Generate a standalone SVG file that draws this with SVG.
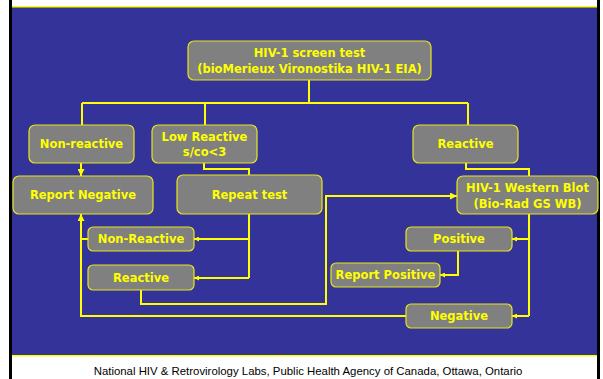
<svg xmlns="http://www.w3.org/2000/svg" width="603" height="379" viewBox="0 0 603 379">
<defs>
<style>
.box{fill:#808080;stroke:#e6e61a;stroke-width:1.2}
.lbl{fill:#ffff00;font-family:"DejaVu Sans",sans-serif;font-weight:bold;font-size:11.5px;text-anchor:middle}
.ln{fill:none;stroke:#ffff00;stroke-width:2}
.foot{fill:#000;font-family:"Liberation Sans",Arial,sans-serif;font-size:11.4px;text-anchor:middle}
</style>
<marker id="ah" viewBox="0 0 10 10" refX="10" refY="5" markerWidth="7" markerHeight="7" markerUnits="userSpaceOnUse" orient="auto">
<path d="M0,0 L10,5 L0,10 z" fill="#ffff00"/>
</marker>
<marker id="ahs" viewBox="0 0 10 10" refX="10" refY="5" markerWidth="5" markerHeight="5" markerUnits="userSpaceOnUse" orient="auto">
<path d="M0,0 L10,5 L0,10 z" fill="#ffff00"/>
</marker>
</defs>
<rect x="0" y="0" width="603" height="379" fill="#ffffff"/>
<rect x="9" y="0" width="3" height="379" fill="#000000"/>
<rect x="597" y="0" width="3" height="379" fill="#000000"/>
<rect x="12" y="6" width="585" height="350" fill="#333399"/>
<rect x="12" y="6" width="585" height="1.5" fill="#ffff00"/>
<rect x="12" y="355" width="585" height="1.5" fill="#ffff00"/>

<g id="connectors">
<path class="ln" d="M309 80 V103 M82 103 H468 M82 103 V125 M205 103 V125 M468 103 V125"/>
<path class="ln" d="M81 163 V176" marker-end="url(#ah)"/>
<path class="ln" d="M204 163 V169 H249 V175"/>
<path class="ln" d="M249 214 V278"/>
<path class="ln" d="M249 239 H194" marker-end="url(#ahs)"/>
<path class="ln" d="M249 278 H194" marker-end="url(#ahs)"/>
<path class="ln" d="M88 239 H81"/>
<path class="ln" d="M141 290 V304 H326 V196 H457" marker-end="url(#ah)"/>
<path class="ln" d="M466 163 V169 H529 V176"/>
<path class="ln" d="M529 214 V316"/>
<path class="ln" d="M529 239 H512" marker-end="url(#ahs)"/>
<path class="ln" d="M529 316 H512" marker-end="url(#ahs)"/>
<path class="ln" d="M458 251 V275 H440" marker-end="url(#ahs)"/>
<path class="ln" d="M406 316 H81 V214" marker-end="url(#ah)"/>
</g>

<g id="n_screen"><rect class="box" x="188" y="41" width="243" height="39" rx="6"/><text class="lbl" x="309.5" y="57">HIV-1 screen test</text><text class="lbl" x="309.5" y="73">(bioMerieux Vironostika HIV-1 EIA)</text></g>
<g id="n_nonreactive"><rect class="box" x="29" y="125" width="105" height="38" rx="6"/><text class="lbl" x="81.5" y="148">Non-reactive</text></g>
<g id="n_lowreactive"><rect class="box" x="152" y="125" width="105" height="38" rx="6"/><text class="lbl" x="204.5" y="141">Low Reactive</text><text class="lbl" x="204.5" y="156">s/co&lt;3</text></g>
<g id="n_reactive"><rect class="box" x="413" y="125" width="105" height="38" rx="6"/><text class="lbl" x="465.5" y="148">Reactive</text></g>
<g id="n_reportneg"><rect class="box" x="13" y="176" width="140" height="38" rx="6"/><text class="lbl" x="83" y="199">Report Negative</text></g>
<g id="n_repeat"><rect class="box" x="177" y="175" width="145" height="39" rx="6"/><text class="lbl" x="249.5" y="199">Repeat test</text></g>
<g id="n_wb"><rect class="box" x="457" y="176" width="141" height="38" rx="6"/><text class="lbl" x="527.5" y="192">HIV-1 Western Blot</text><text class="lbl" x="527.5" y="208">(Bio-Rad GS WB)</text></g>
<g id="n_nonreactive2"><rect class="box" x="88" y="227" width="106" height="24" rx="5"/><text class="lbl" x="141" y="243">Non-Reactive</text></g>
<g id="n_reactive2"><rect class="box" x="88" y="265" width="106" height="25" rx="5"/><text class="lbl" x="141" y="282">Reactive</text></g>
<g id="n_positive"><rect class="box" x="406" y="227" width="106" height="24" rx="5"/><text class="lbl" x="459" y="243">Positive</text></g>
<g id="n_reportpos"><rect class="box" x="331" y="263" width="109" height="24" rx="5"/><text class="lbl" x="385.5" y="279">Report Positive</text></g>
<g id="n_negative"><rect class="box" x="406" y="304" width="106" height="24" rx="5"/><text class="lbl" x="459" y="320">Negative</text></g>

<text class="foot" x="308" y="375">National HIV &amp; Retrovirology Labs, Public Health Agency of Canada, Ottawa, Ontario</text>
</svg>
